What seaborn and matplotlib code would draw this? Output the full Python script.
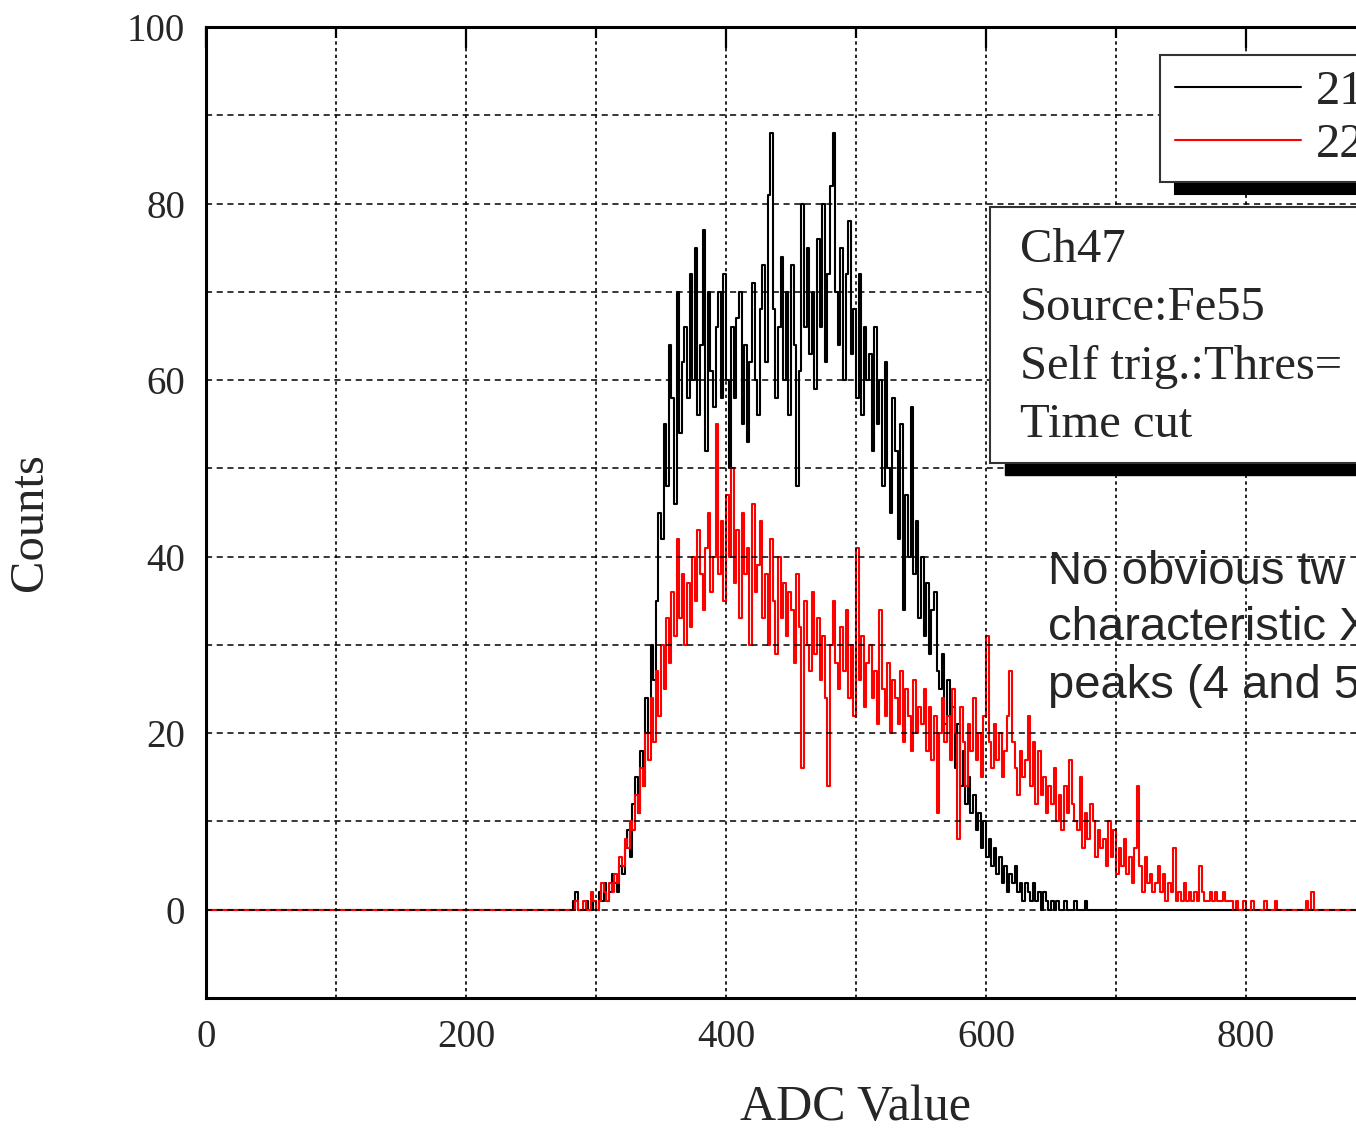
import matplotlib
matplotlib.use("Agg")
import matplotlib.pyplot as plt
import pandas as pd
import seaborn as sns
from matplotlib.patches import Rectangle
from matplotlib.lines import Line2D
from matplotlib.ticker import MultipleLocator, FixedLocator

# ---------------- data ----------------
series_labels = ["21", "22"]
series_colors = ["black", "red"]
bin_start = 270          # ADC value of the first listed bin
bin_width = 2            # ADC units per listed bin
x_limits = (0, 1000)
y_limits = (-10, 100)
x_tick_values = [0, 200, 400, 600, 800]

counts_21 = [
    0, 0, 0, 0, 0, 0, 1, 2, 0, 0,            # 270
    0, 1, 0, 0, 1, 0, 2, 1, 3, 1,            # 290
    2, 4, 3, 2, 5, 4, 7, 9, 6, 12,           # 310
    15, 11, 18, 14, 24, 20, 30, 26, 35, 45,  # 330
    42, 55, 48, 64, 58, 46, 70, 54, 62, 66,  # 350
    58, 72, 60, 75, 56, 64, 77, 52, 70, 61,  # 370
    57, 66, 70, 58, 72, 60, 50, 66, 58, 67,  # 390
    70, 55, 64, 53, 62, 71, 60, 56, 68, 73,  # 410
    62, 81, 88, 68, 58, 66, 74, 60, 70, 56,  # 430
    73, 64, 48, 61, 80, 66, 75, 63, 70, 59,  # 450
    76, 66, 80, 62, 72, 82, 88, 70, 64, 75,  # 470
    60, 72, 78, 63, 68, 58, 72, 56, 66, 60,  # 490
    63, 52, 66, 55, 60, 48, 62, 50, 45, 58,  # 510
    52, 42, 55, 34, 47, 40, 57, 38, 44, 33,  # 530
    40, 31, 37, 29, 34, 36, 27, 25, 29, 21,  # 550
    26, 19, 23, 16, 21, 14, 18, 12, 15, 11,  # 570
    13, 9, 11, 7, 10, 6, 8, 5, 7, 4,         # 590
    6, 3, 5, 2, 4, 3, 5, 2, 3, 1,            # 610
    3, 2, 1, 3, 1, 2, 0, 2, 1, 0,            # 630
    1, 0, 1, 0, 0, 1, 0, 0, 0, 1,            # 650
    0, 0, 0, 1, 0, 0, 0, 0, 0, 0,            # 670
]

counts_22 = [
    0, 0, 0, 0, 0, 0, 0, 1, 0, 0,            # 270
    1, 0, 0, 2, 1, 0, 1, 3, 2, 1,            # 290
    3, 2, 4, 3, 6, 5, 8, 7, 10, 9,           # 310
    13, 11, 16, 14, 20, 17, 24, 19, 27, 22,  # 330
    30, 25, 33, 28, 36, 31, 42, 33, 38, 30,  # 350
    37, 32, 40, 35, 43, 38, 34, 41, 45, 36,  # 370
    40, 55, 38, 44, 35, 47, 40, 50, 37, 43,  # 390
    33, 45, 38, 41, 30, 46, 36, 39, 44, 33,  # 410
    38, 30, 42, 35, 29, 40, 33, 37, 31, 36,  # 430
    34, 28, 38, 32, 16, 35, 30, 27, 36, 29,  # 450
    33, 26, 31, 24, 14, 30, 35, 28, 25, 32,  # 470
    27, 34, 24, 30, 22, 41, 26, 31, 23, 28,  # 490
    30, 24, 27, 21, 34, 25, 22, 28, 20, 26,  # 510
    24, 21, 27, 19, 25, 22, 18, 26, 20, 23,  # 530
    21, 25, 18, 23, 17, 22, 11, 20, 24, 19,  # 550
    22, 17, 25, 20, 8, 23, 19, 14, 21, 18,   # 570
    24, 17, 20, 15, 22, 31, 19, 16, 21, 17,  # 590
    20, 15, 18, 22, 27, 19, 16, 13, 18, 15,  # 610
    17, 22, 14, 19, 12, 18, 13, 15, 11, 14,  # 630
    12, 16, 10, 13, 9, 14, 11, 17, 12, 10,   # 650
    9, 15, 7, 11, 8, 12, 10, 6, 9, 7,        # 670
    8, 5, 10, 6, 9, 4, 7, 5, 8, 4,           # 690
    6, 3, 7, 14, 5, 2, 6, 3, 4, 2,           # 710
    3, 5, 2, 4, 1, 3, 2, 7, 1, 2,            # 730
    1, 3, 1, 2, 1, 2, 1, 5, 2, 1,            # 750
    1, 2, 1, 2, 1, 1, 2, 1, 1, 1,            # 770
    0, 1, 0, 0, 1, 0, 0, 1, 0, 0,            # 790
    0, 0, 1, 0, 0, 0, 1, 0, 0, 0,            # 810
    0, 0, 0, 0, 0, 0, 0, 0, 1, 0,            # 830
    2, 0, 0, 0, 0, 0, 0, 0, 0, 0,            # 850
]

info_lines = ["Ch47", "Source:Fe55", "Self trig.:Thres=", "Time cut"]
note_lines = ["No obvious tw", "characteristic X", "peaks (4 and 5"]
x_label = "ADC Value"
y_label = "Counts"

# ---------------- build long table ----------------
rows = []
for label, counts in zip(series_labels, [counts_21, counts_22]):
    rows.append((label, x_limits[0], 0))
    for i, c in enumerate(counts):
        rows.append((label, bin_start + i * bin_width, c))
    rows.append((label, x_limits[1], 0))
df = pd.DataFrame(rows, columns=["series", "ADC", "Counts"])

# ---------------- style ----------------
sns.set_style("white")
plt.rcParams["font.family"] = ["Liberation Serif", "DejaVu Serif"]
plt.rcParams["axes.linewidth"] = 2.2

W, H = 1356, 1131
fig = plt.figure(figsize=(W / 100, H / 100), dpi=100)
fig.patch.set_facecolor("white")
# axes: left px 206, top px 27, bottom px 998; x range continues past the crop
ax = fig.add_axes([206 / W, (H - 998) / H, 1300 / W, 971 / H])
ax.set_facecolor("white")

sns.lineplot(data=df, x="ADC", y="Counts", hue="series",
             hue_order=series_labels,
             palette=dict(zip(series_labels, series_colors)),
             drawstyle="steps-post", linewidth=1.5, legend=False, ax=ax)

ax.set_xlim(*x_limits)
ax.set_ylim(*y_limits)
ax.xaxis.set_major_locator(FixedLocator(x_tick_values))
ax.xaxis.set_minor_locator(MultipleLocator(100))
ax.yaxis.set_major_locator(MultipleLocator(20))
ax.yaxis.set_minor_locator(MultipleLocator(10))

ax.set_axisbelow(False)
ax.xaxis.grid(True, which="both", color="black", linestyle=(0, (2, 2)), linewidth=1.2)
ax.yaxis.grid(True, which="both", color="black", linestyle=(0, (4, 3)), linewidth=1.1)

ax.tick_params(which="both", direction="in", top=True, right=True,
               color="black", width=1.6, labelsize=28, pad=15)
ax.tick_params(which="major", length=15)
ax.tick_params(which="minor", length=8)
for sp in ax.spines.values():
    sp.set_color("black")
    sp.set_linewidth(2.2)

ax.set_xlabel(x_label, fontsize=36)
ax.set_ylabel(y_label, fontsize=35)
ax.xaxis.label.set_verticalalignment("center")
ax.yaxis.label.set_verticalalignment("center")
ax.xaxis.set_label_coords(0.5, (998 - 1108) / 971)
ax.yaxis.set_label_coords((30 - 206) / 1300, (998 - 522) / 971)

def ax_x(px):
    return (px - 206) / 1300

def ax_y(py):
    return (998 - py) / 971

# ---------------- legend ----------------
handles = [Line2D([], [], color=c, linewidth=1.5) for c in series_colors]
leg = ax.legend(handles, series_labels, loc="upper left",
                bbox_to_anchor=(ax_x(1160), ax_y(55), 0.35, 0), mode="expand",
                borderaxespad=0, prop={"family": "Liberation Serif", "size": 35},
                handlelength=2.6, handletextpad=0.3, borderpad=0.3,
                labelspacing=0.2, fancybox=False, framealpha=1,
                edgecolor="#333333",
                shadow={"ox": 11, "oy": -9, "shade": 1.0, "alpha": 1})
leg.get_frame().set_linewidth(1.5)
leg.set_zorder(6)

# ---------------- info box ----------------
bx0, by0 = ax_x(990), ax_y(463)
bw, bh = 0.45, ax_y(207) - ax_y(463)
ax.add_patch(Rectangle((bx0 + 15 / 1300, by0 - 12 / 971), bw, bh,
                       transform=ax.transAxes, facecolor="black",
                       edgecolor="black", zorder=4, clip_on=False))
ax.add_patch(Rectangle((bx0, by0), bw, bh, transform=ax.transAxes,
                       facecolor="white", edgecolor="#333333", linewidth=1.5,
                       zorder=4.5, clip_on=False))
for line, py in zip(info_lines, [250, 308, 367, 425]):
    ax.text(ax_x(1020), ax_y(py), line, transform=ax.transAxes,
            fontsize=35, family="Liberation Serif", va="center", ha="left",
            zorder=5)

# ---------------- annotation ----------------
for line, py in zip(note_lines, [572, 628, 686]):
    ax.text(ax_x(1048), ax_y(py), line, transform=ax.transAxes,
            fontsize=34, family=["Liberation Sans", "DejaVu Sans"],
            va="center", ha="left", zorder=5)

fig.savefig("out.png", dpi=100, facecolor="white")
